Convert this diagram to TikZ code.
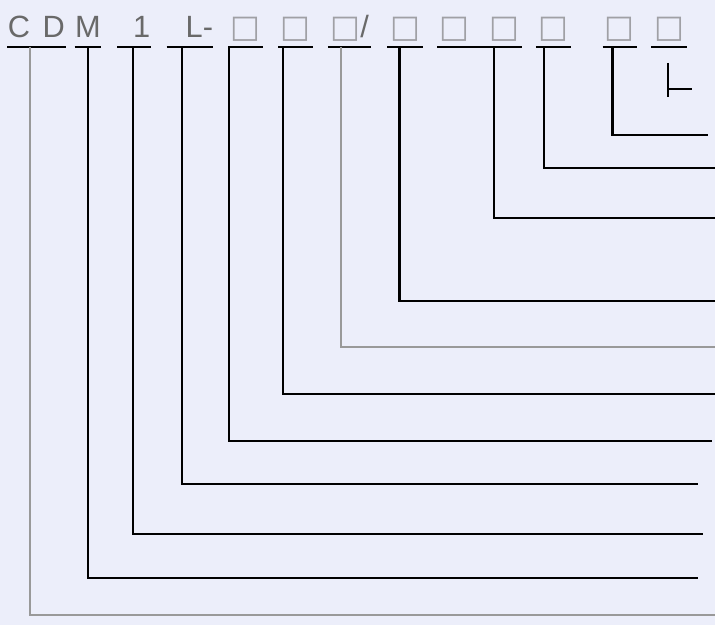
\documentclass[tikz,border=0pt]{standalone}
\usepackage{fontspec}
\setmainfont{Liberation Sans}
\newfontfamily\symfont{DejaVu Sans}
\usetikzlibrary{positioning}
\definecolor{paper}{RGB}{236,238,250}
\definecolor{ink}{RGB}{105,105,105}
\definecolor{boxgray}{RGB}{160,160,165}
\newcommand{\sq}{{\symfont\color{boxgray}\fontsize{18}{18}\selectfont □}}

\begin{document}
\begin{tikzpicture}[
			x=0.02cm, y=-0.02cm,
			code/.style  = {inner xsep=0pt, inner ysep=0.18cm, minimum height=0pt, text height=0.46cm, text depth=0pt, align=center, font=\fontsize{17.5}{20}\selectfont, text=ink},
			uline/.style = {line width=1.4pt},
			lead/.style  = {line width=1.2pt},
			faded/.style = {line width=1.2pt, draw=gray!80}
			]
			
			\useasboundingbox [fill=paper] (0,0) rectangle (715,625);
			
			%% ── Code characters ───────────────────────────────────────────
			\node [code, anchor=south west, minimum width=1.16cm] (cd) at (7,47) {C \hspace{0.08cm}D};
			\node [code, right=0.18cm of cd,  minimum width=0.5cm]             (m)   {M};
			\node [code, right=0.32cm of m,   text width=0.66cm, align=right]  (one) {1};
			\node [code, right=0.32cm of one, text width=0.92cm, align=right]  (l)   {L-};
			\node [code, right=0.3cm of l,    minimum width=0.68cm]            (b1)  {\sq};
			\node [code, right=0.3cm of b1,   minimum width=0.68cm]            (b2)  {\sq};
			\node [code, right=0.3cm of b2,   minimum width=0.86cm]            (bs)  {\sq/};
			\node [code, right=0.32cm of bs,  minimum width=0.7cm]             (b3)  {\sq};
			\node [code, right=0.28cm of b3,  minimum width=1.68cm]            (bd)  {\sq\hspace{0.4cm}\sq};
			\node [code, right=0.28cm of bd,  minimum width=0.68cm]            (b6)  {\sq};
			\node [code, right=0.64cm of b6,  minimum width=0.68cm]            (b7)  {\sq};
			\node [code, right=0.28cm of b7,  minimum width=0.7cm]             (b8)  {\sq};
			
			%% ── Underlines ────────────────────────────────────────────────
			\draw [uline] (cd.south west)  -- (cd.south east);
			\draw [uline] (m.south west)   -- (m.south east);
			\draw [uline] (one.south west) -- (one.south east);
			\draw [uline] (l.south west)   -- (l.south east);
			\draw [uline] (b1.south west)  -- (b1.south east);
			\draw [uline] (b2.south west)  -- (b2.south east);
			\draw [uline] (bs.south west)  -- (bs.south east);
			\draw [uline] (b3.south west)  -- (b3.south east);
			\draw [uline] (bd.south west)  -- (bd.south east);
			\draw [uline] (b6.south west)  -- (b6.south east);
			\draw [uline] (b7.south west)  -- (b7.south east);
			\draw [uline] (b8.south west)  -- (b8.south east);
			
			%% ── Free ends on the right ────────────────────────────────────
			\coordinate (cd-end)  at (715,615);
			\coordinate (m-end)   at (698,578);
			\coordinate (one-end) at (703,534);
			\coordinate (l-end)   at (698,484);
			\coordinate (b1-end)  at (712,441);
			\coordinate (b2-end)  at (715,394);
			\coordinate (bs-end)  at (715,347);
			\coordinate (b3-end)  at (715,301);
			\coordinate (bd-end)  at (715,218);
			\coordinate (b6-end)  at (715,168);
			\coordinate (b7-end)  at (708,135);
			\coordinate (b8-end)  at (692,89);
			
			%% ── Leader lines ──────────────────────────────────────────────
			\draw [faded] ([xshift=0.46cm]cd.south west)  |- (cd-end);
			\draw [lead]  ([xshift=0.26cm]m.south west)   |- (m-end);
			\draw [lead]  ([xshift=0.32cm]one.south west) |- (one-end);
			\draw [lead]  ([xshift=0.3cm]l.south west)    |- (l-end);
			\draw [lead]  ([xshift=0.02cm]b1.south west)  |- (b1-end);
			\draw [lead]  ([xshift=0.1cm]b2.south west)   |- (b2-end);
			\draw [faded] ([xshift=0.26cm]bs.south west)  |- (bs-end);
			\draw [lead]  ([xshift=0.24cm]b3.south west)  |- (b3-end);
			\draw [lead]  ([xshift=1.14cm]bd.south west)  |- (bd-end);
			\draw [lead]  ([xshift=0.16cm]b6.south west)  |- (b6-end);
			\draw [lead]  ([xshift=0.2cm]b7.south west)   |- (b7-end);
			
			% short stub under the last place
			\coordinate [xshift=0.34cm] (b8-x) at (b8.south west);
			\draw [lead] ([yshift=-0.32cm]b8-x) -- ([yshift=-1cm]b8-x);
			\draw [lead] (b8-x |- b8-end) -- (b8-end);
			
		\end{tikzpicture}
\end{document}
